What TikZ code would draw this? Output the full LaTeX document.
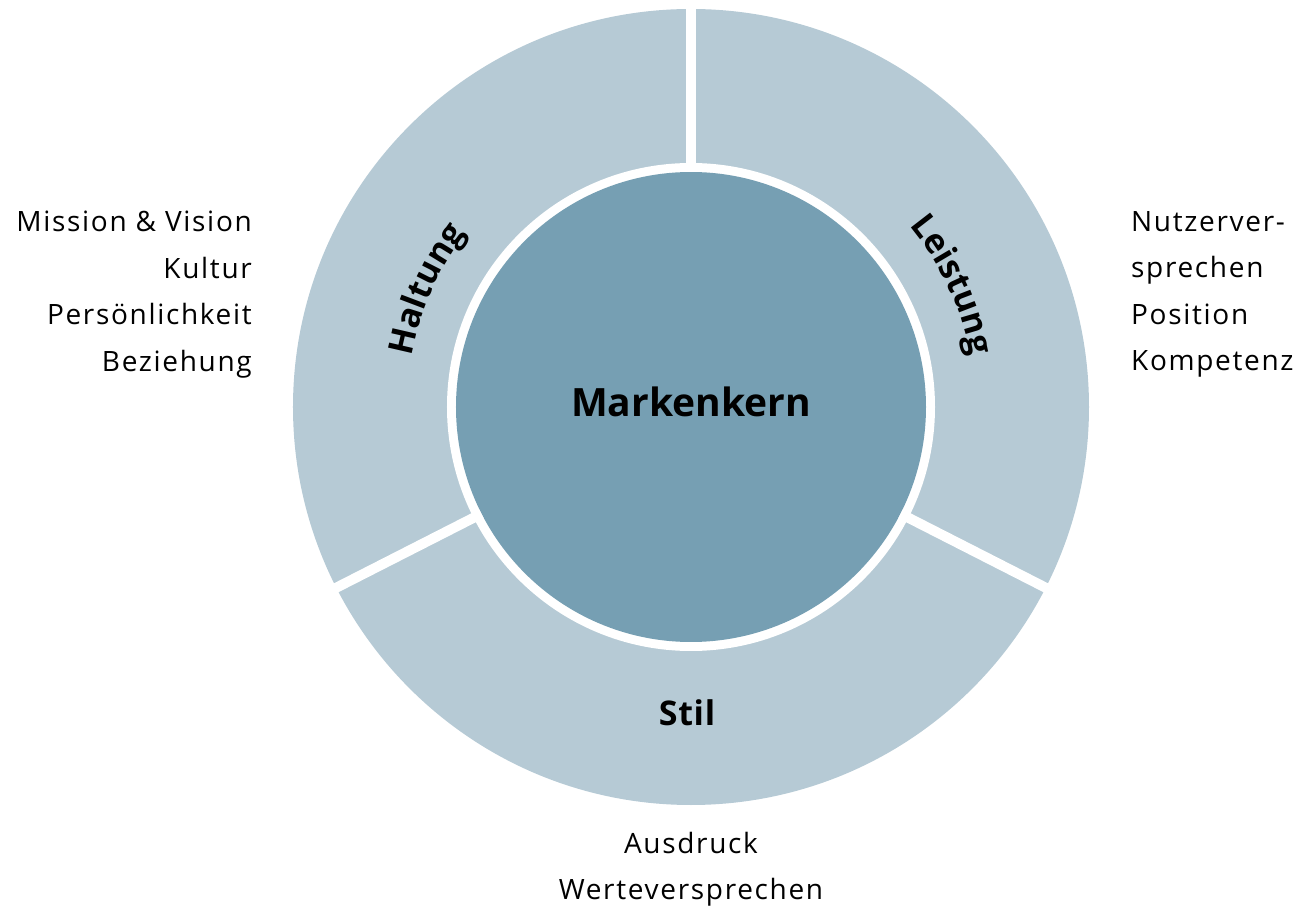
\documentclass[tikz,border=0pt]{standalone}
\usepackage{fontspec}
\setmainfont{Open Sans}[LetterSpace=6]
\newfontfamily\kernfont{Open Sans}[LetterSpace=2]
\newfontfamily\corefont{Open Sans}
\usetikzlibrary{decorations.text}
\definecolor{ringblue}{HTML}{B6CAD5}
\definecolor{kernblue}{HTML}{769FB3}
\newcommand{\sidefont}{\fontsize{28pt}{46.5pt}\selectfont}
\newcommand{\ringfont}{\kernfont\bfseries\fontsize{34pt}{40pt}\selectfont}
\tikzset{
  sidetext/.style={font=\sidefont, inner sep=0pt},
  separator/.style={white, line width=10pt},
  ringlabel/.style={decorate, decoration={text along path, text align=center,
    text={|\ringfont|#1}}}
}
\begin{document}
\begin{tikzpicture}[x=1pt,y=1pt]
\useasboundingbox (-691,-502) rectangle (604,407);

\fill[ringblue] (0,0) circle (398);
\fill[white] (0,0) circle (244);
\node[circle, fill=kernblue, minimum size=470pt, inner sep=0pt] (kern) at (0,0) {};
\node[anchor=base, inner sep=0pt, font=\corefont\bfseries\fontsize{39pt}{46pt}\selectfont] (kerntext) at (0,-9.5) {Markenkern};

\draw[separator] (kern.90) -- (90:405);
\draw[separator] (kern.207) -- (207:405);
\draw[separator] (kern.333) -- (333:405);

\path[ringlabel=Haltung] (186:284) arc (186:126:284);
\path[ringlabel=Leistung] (55:284) arc (55:-5:284);
\node[anchor=base, inner sep=0pt, font=\ringfont] (stil) at (-4,-318) {Stil};

\node[sidetext, anchor=north east, align=right] (haltungtext) at (-439,196)
  {Mission \& Vision\\Kultur\\Persönlichkeit\\Beziehung};
\node[sidetext, anchor=north west, align=left] (leistungtext) at (440,196)
  {Nutzerver-\\sprechen\\Position\\Kompetenz};
\node[sidetext, anchor=north, align=center] (stiltext) at (0,-425)
  {Ausdruck\\Werteversprechen};
\end{tikzpicture}
\end{document}
